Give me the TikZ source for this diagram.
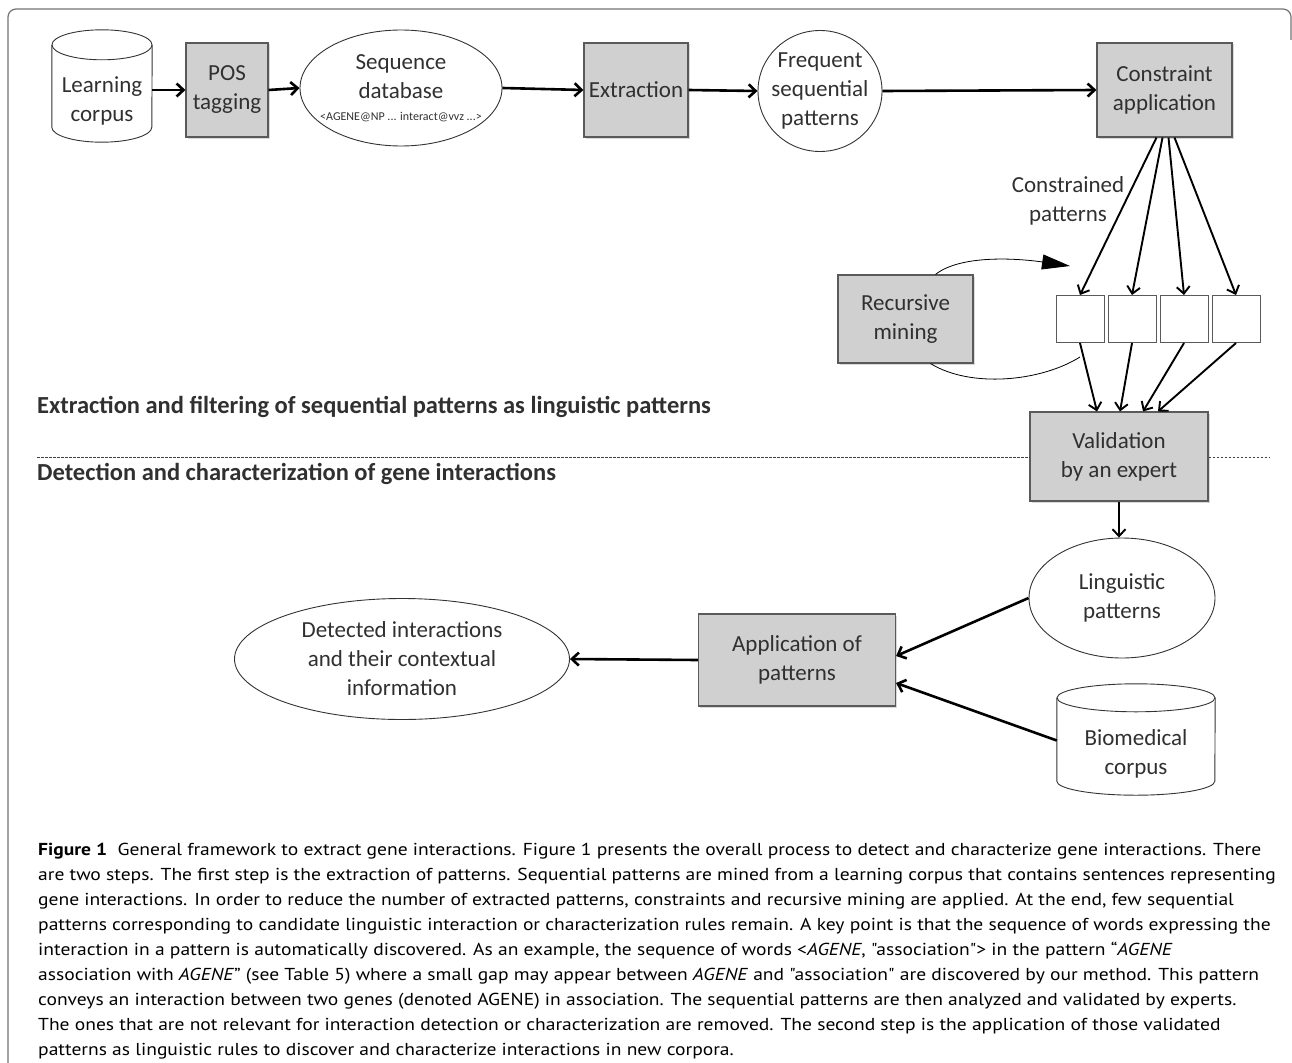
\documentclass[tikz,border=0pt]{standalone}
\usepackage{fontspec}
\setmainfont{Carlito}
\newfontfamily\capfont[FakeStretch=1.13]{PT Sans}
\usetikzlibrary{
arrows.meta,
calc,
positioning,
shadows,
shapes.geometric
}
\tikzset{>={Straight Barb[length=7pt,width=13pt]}}

\definecolor{boxgray}{HTML}{D0D0D0}
\definecolor{edgegray}{HTML}{5A5A5A}
\definecolor{txtgray}{HTML}{303030}

\tikzset{
  procbox/.style={draw=edgegray, line width=1.1pt, fill=boxgray, align=center, inner sep=0pt,
    drop shadow={shadow xshift=1.5pt, shadow yshift=-1.5pt, opacity=0.3}},
  dataell/.style={draw=black!80, ellipse, line width=0.9pt, align=center, inner xsep=-30pt, inner ysep=0pt},
  dbnode/.style={align=center, inner sep=0pt},
  patbox/.style={draw=edgegray, line width=1pt, minimum width=48pt, minimum height=47pt, inner sep=0pt},
  flow/.style={->, line width=2.6pt},
  thinflow/.style={->, line width=1.9pt},
  loopline/.style={line width=0.8pt},
  sepline/.style={draw=black!75, line width=0.9pt, dash pattern=on 2.5pt off 1.5pt},
  seclabel/.style={anchor=west, inner sep=0pt, font=\fontsize{24.5}{29}\selectfont\bfseries}
}

% cylinder outline round a node: name, x radius, y radius
\newcommand\dbshape[3]{%
  \draw[line width=0.9pt, black!80] ($(#1.north west)+(0,#3)$) -- ($(#1.south west)+(0,#3)$)
    arc[start angle=180, end angle=360, x radius=#2, y radius=#3] -- ($(#1.north east)+(0,#3)$);
  \draw[line width=0.9pt, black!80] ($(#1.north)+(0,#3)$) ellipse[x radius=#2, y radius=#3];
}

\begin{document}
\begin{tikzpicture}[x=1pt, y=1pt, font=\fontsize{23}{29}\selectfont, text=txtgray]
  \useasboundingbox (0,0) rectangle (1292,-1062);
  \draw[black!55, line width=1.2pt, rounded corners=8pt] (8,-1080) -- (8,-9) -- (1291,-9) -- (1291,-40);

  % upper part: pattern extraction
  \node[dbnode, minimum width=100pt, minimum height=82pt] (lcorpus) at (102,-101) {Learning\\corpus};
  \dbshape{lcorpus}{50}{15}
  \node[procbox, minimum width=82pt, minimum height=94pt] (pos) at (227,-90) {POS\\tagging};
  \node[dataell, minimum width=202pt, minimum height=116pt] (seqdb) at (401,-88)
    {Sequence\\database\\[-7pt]{\fontsize{12}{14}\selectfont <AGENE@NP ... interact@vvz ...>}};
  \node[procbox, minimum width=104pt, minimum height=94pt] (extract) at (636,-90) {Extraction};
  \node[dataell, minimum width=124pt, minimum height=121pt] (freqpat) at (820,-91) {Frequent\\sequential\\patterns};
  \node[procbox, minimum width=135pt, minimum height=94pt] (constr) at (1164.5,-90) {Constraint\\application};

  \draw[flow] (lcorpus.east |- pos.west) -- (pos.west);
  \draw[flow] (pos.east) -- (seqdb.west);
  \draw[flow] (seqdb.east) -- (extract.west);
  \draw[flow] (extract.east) -- (freqpat.west);
  \draw[flow] (freqpat.east) -- (constr.west);

  \node[align=center] (cplabel) at (1068,-201) {Constrained\\patterns};

  \node[patbox] (pb1) at (1080,-319) {};
  \node[patbox, right=3pt of pb1] (pb2) {};
  \node[patbox, right=3pt of pb2] (pb3) {};
  \node[patbox, right=3pt of pb3] (pb4) {};

  \foreach \i/\s in {1/-8, 2/-2, 3/4, 4/10}
    \draw[thinflow] ([xshift=\s pt]constr.south) -- (pb\i.north);

  \node[procbox, minimum width=135pt, minimum height=88pt] (recmine) at (905.5,-319) {Recursive\\mining};
  \coordinate (loopin) at (1070,-266);
  \coordinate (loopout) at (1080,-357);
  \draw[loopline, -{Triangle[length=28pt, width=15pt]}] ([xshift=30pt]recmine.north)
    .. controls (960,-255) and (1015,-258) .. (loopin);
  \draw[loopline] (loopout) .. controls (1040,-382) and (970,-388) .. ([xshift=25pt]recmine.south);

  \node[procbox, minimum width=178pt, minimum height=89pt] (valid) at (1119,-456.5) {Validation\\by an expert};
  \foreach \i/\s in {1/-22, 2/1, 3/24, 4/39}
    \draw[thinflow] (pb\i.south) -- ([xshift=\s pt]valid.north);

  % separation of the two steps
  \node[seclabel] (sectop) at (37,-407) {Extraction and filtering of sequential patterns as linguistic patterns};
  \node[seclabel] (secbot) at (37,-474) {Detection and characterization of gene interactions};
  \coordinate (sepl) at (37,-457);
  \coordinate (sepr) at (1270,-457);
  \draw[sepline] (sepl) -- (sepl -| valid.west);
  \draw[sepline] (sepr -| valid.east) -- (sepr);

  % lower part: detection
  \node[dataell, minimum width=186pt, minimum height=120pt] (lingpat) at (1122,-598) {Linguistic\\patterns};
  \draw[thinflow] (valid.south) -- (valid.south |- lingpat.north);
  \node[procbox, minimum width=197pt, minimum height=92pt] (applpat) at (797,-660) {Application of\\patterns};
  \node[dbnode, minimum width=158pt, minimum height=83pt] (biocorpus) at (1136,-753.5) {Biomedical\\corpus};
  \dbshape{biocorpus}{79}{14}
  \node[dataell, minimum width=335pt, minimum height=121pt] (detected) at (402,-659)
    {Detected interactions\\and their contextual\\information};

  \draw[flow] (lingpat.west) -- ([yshift=4pt]applpat.east);
  \draw[flow] ([yshift=13pt]biocorpus.west) -- ([yshift=-23pt]applpat.east);
  \draw[flow] (applpat.west) -- (detected.east);

  % caption
  \node[anchor=north west, align=left, inner sep=0pt, text=black,
    font=\capfont\fontsize{17.3}{25}\selectfont] (caption) at (38,-843)
  {\textbf{Figure 1}\hspace{0.6em}General framework to extract gene interactions. Figure 1 presents the overall process to detect and characterize gene interactions. There\\
  are two steps. The first step is the extraction of patterns. Sequential patterns are mined from a learning corpus that contains sentences representing\\
  gene interactions. In order to reduce the number of extracted patterns, constraints and recursive mining are applied. At the end, few sequential\\
  patterns corresponding to candidate linguistic interaction or characterization rules remain. A key point is that the sequence of words expressing the\\
  interaction in a pattern is automatically discovered. As an example, the sequence of words <\textit{AGENE}, "association"> in the pattern “\textit{AGENE}\\
  association with \textit{AGENE}” (see Table 5) where a small gap may appear between \textit{AGENE} and "association" are discovered by our method. This pattern\\
  conveys an interaction between two genes (denoted AGENE) in association. The sequential patterns are then analyzed and validated by experts.\\
  The ones that are not relevant for interaction detection or characterization are removed. The second step is the application of those validated\\
  patterns as linguistic rules to discover and characterize interactions in new corpora.};
\end{tikzpicture}
\end{document}
